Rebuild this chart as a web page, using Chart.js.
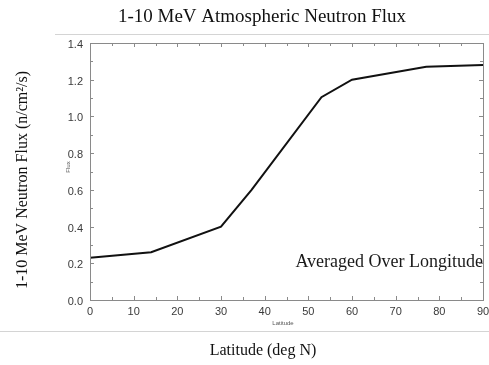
<!DOCTYPE html>
<html>
<head>
<meta charset="utf-8">
<script src="https://cdn.jsdelivr.net/npm/chart.js@4/dist/chart.umd.min.js"></script>
<style>
html,body{margin:0;padding:0;background:#fff;}
#wrap{width:489px;height:365px;position:relative;}
</style>
</head>
<body>
<div id="wrap"><canvas id="c" width="489" height="365"></canvas></div>
<script>
// Data
const latitudes = [0, 14, 30, 37, 53, 60, 77, 90];
const fluxValues = [0.23, 0.26, 0.40, 0.60, 1.105, 1.20, 1.27, 1.28];
const xTickValues = [0, 10, 20, 30, 40, 50, 60, 70, 80, 90];
const yTickValues = [0.0, 0.2, 0.4, 0.6, 0.8, 1.0, 1.2, 1.4];

const chartTitle = '1-10 MeV Atmospheric Neutron Flux';
const outerYTitle = '1-10 MeV Neutron Flux (n/cm\u00B2/s)';
const outerXTitle = 'Latitude (deg N)';
const innerYTitle = 'Flux';
const innerXTitle = 'Latitude';
const annotationText = 'Averaged Over Longitude';

const points = latitudes.map((x, i) => ({x: x, y: fluxValues[i]}));

const decorPlugin = {
  id: 'decor',
  beforeDraw(chart) {
    const ctx = chart.ctx;
    ctx.save();
    ctx.strokeStyle = '#d4d4d4';
    ctx.lineWidth = 1;
    ctx.beginPath();
    ctx.moveTo(55, 34.5); ctx.lineTo(489, 34.5);
    ctx.moveTo(0, 331.5); ctx.lineTo(489, 331.5);
    ctx.stroke();
    ctx.restore();
  },
  afterDatasetsDraw(chart) {
    const ctx = chart.ctx;
    const a = chart.chartArea;
    const xs = chart.scales.x, ys = chart.scales.y;
    ctx.save();
    ctx.strokeStyle = '#8a8a8a';
    ctx.lineWidth = 1;
    ctx.strokeRect(Math.round(a.left) + 0.5, Math.round(a.top) + 0.5,
                   Math.round(a.right - a.left), Math.round(a.bottom - a.top));
    ctx.beginPath();
    for (let v = 0; v <= 90; v += 5) {
      const px = Math.round(xs.getPixelForValue(v)) + 0.5;
      const len = (v % 10 === 0) ? 4 : 3;
      ctx.moveTo(px, a.bottom); ctx.lineTo(px, a.bottom - len);
      ctx.moveTo(px, a.top); ctx.lineTo(px, a.top + len);
    }
    for (let k = 0; k <= 14; k++) {
      const v = k / 10;
      const py = Math.round(ys.getPixelForValue(v)) + 0.5;
      const len = (k % 2 === 0) ? 4 : 3;
      ctx.moveTo(a.left, py); ctx.lineTo(a.left + len, py);
      ctx.moveTo(a.right, py); ctx.lineTo(a.right - len, py);
    }
    ctx.stroke();

    ctx.fillStyle = '#111';
    ctx.textAlign = 'center';
    ctx.textBaseline = 'alphabetic';
    ctx.font = '19px "Liberation Serif", "Times New Roman", serif';
    ctx.fillText(chartTitle, 262, 22);

    ctx.font = '16px "Liberation Serif", "Times New Roman", serif';
    ctx.fillText(outerXTitle, 263, 355);

    ctx.save();
    ctx.translate(27, 180);
    ctx.rotate(-Math.PI / 2);
    ctx.fillText(outerYTitle, 0, 0);
    ctx.restore();

    ctx.fillStyle = '#555';
    ctx.font = '6px "Liberation Sans", Arial, sans-serif';
    ctx.fillText(innerXTitle, 283, 325);
    ctx.save();
    ctx.translate(70, 167);
    ctx.rotate(-Math.PI / 2);
    ctx.fillText(innerYTitle, 0, 0);
    ctx.restore();

    ctx.fillStyle = '#1a1a1a';
    ctx.textAlign = 'right';
    ctx.font = '18px "Liberation Serif", "Times New Roman", serif';
    ctx.fillText(annotationText, 483, 267);
    ctx.restore();
  }
};

new Chart(document.getElementById('c'), {
  type: 'scatter',
  data: {
    datasets: [{
      data: points,
      showLine: true,
      borderColor: '#111',
      borderWidth: 2,
      pointRadius: 0,
      tension: 0,
      fill: false
    }]
  },
  options: {
    responsive: false,
    animation: false,
    devicePixelRatio: 1,
    layout: {padding: {left: 40, top: 43, right: 6, bottom: 45}},
    plugins: {legend: {display: false}, title: {display: false}, tooltip: {enabled: false}},
    scales: {
      x: {
        type: 'linear', min: 0, max: 90,
        afterBuildTicks(s) { s.ticks = xTickValues.map(v => ({value: v})); },
        afterFit(s) { s.height = 20; s.paddingLeft = 0; s.paddingRight = 0; },
        grid: {display: false, drawTicks: false, tickLength: 0},
        border: {display: false},
        ticks: {padding: 5, color: '#3a3a3a', font: {family: '"Liberation Sans", Arial, sans-serif', size: 11},
                maxRotation: 0, autoSkip: false}
      },
      y: {
        type: 'linear', min: 0, max: 1.4,
        afterBuildTicks(s) { s.ticks = yTickValues.map(v => ({value: v})); },
        afterFit(s) { s.width = 50; s.paddingTop = 0; s.paddingBottom = 0; },
        grid: {display: false, drawTicks: false, tickLength: 0},
        border: {display: false},
        ticks: {padding: 7, labelOffset: 2, color: '#3a3a3a', font: {family: '"Liberation Sans", Arial, sans-serif', size: 11},
                callback: v => Number(v).toFixed(1), autoSkip: false}
      }
    }
  },
  plugins: [decorPlugin]
});
</script>
</body>
</html>
